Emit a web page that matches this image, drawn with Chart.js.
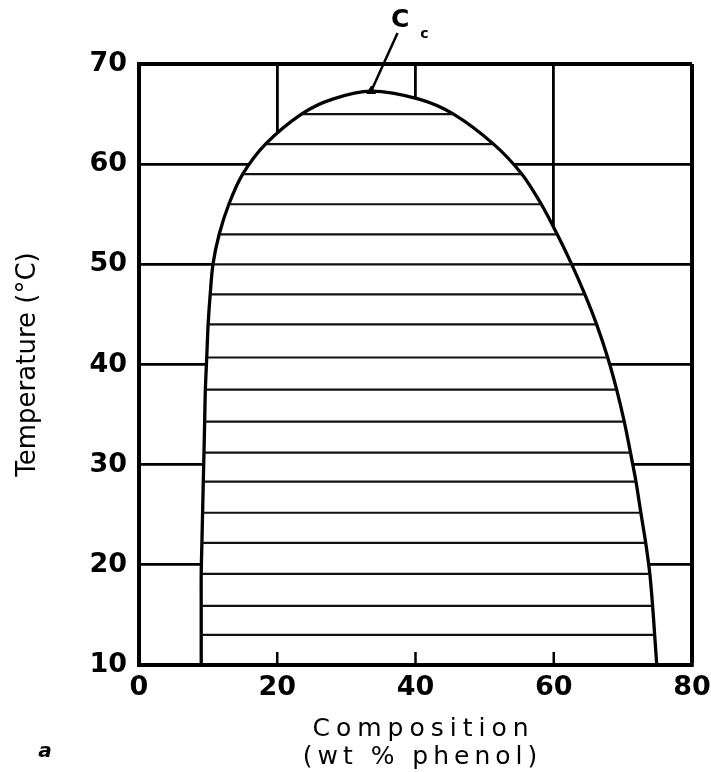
<!DOCTYPE html>
<html>
<head>
<meta charset="utf-8">
<script src="https://cdn.jsdelivr.net/npm/chart.js@4.4.0/dist/chart.umd.min.js"></script>
<style>
html, body { margin: 0; padding: 0; background: #fff; }
#wrap { position: relative; width: 711px; height: 772px; }
</style>
</head>
<body>
<div id="wrap"><canvas id="chart" width="711" height="772"></canvas></div>
<script>
// two-phase boundary (temperature in °C, composition in wt % phenol)
const domeTemps  = [10, 13, 15.9, 19.1, 22.2, 25.2, 28.3, 31.2, 34.3, 37.5, 40.7, 44, 47, 50, 53, 56, 59, 62, 65, 66.5];
const waterRich  = [9.0, 9.0, 9.0, 9.0, 9.1, 9.2, 9.3, 9.4, 9.5, 9.6, 9.8, 10.0, 10.3, 10.7, 11.6, 13.0, 15.0, 18.3, 23.5, 28.0];
const phenolRich = [74.9, 74.6, 74.3, 73.9, 73.3, 72.6, 71.9, 71.1, 70.2, 69.1, 67.8, 66.2, 64.5, 62.6, 60.5, 58.2, 55.4, 51.3, 45.5, 40.5];
// tie lines drawn across the dome
const tieTemps = [13, 15.9, 19.1, 22.2, 25.2, 28.3, 31.2, 34.3, 37.5, 40.7, 44, 47, 50, 53, 56, 59, 62, 65];
const critical = {x: 33.6, y: 67.3};
const leaderEnd = {x: 37.4, y: 73.1};
const labelPos = {x: 37.8, y: 74.3};
const innerTicks = [20, 40, 60];

const domePoints = [];
for (let i = 0; i < domeTemps.length; i++) domePoints.push({x: waterRich[i], y: domeTemps[i]});
domePoints.push(critical);
for (let i = domeTemps.length - 1; i >= 0; i--) domePoints.push({x: phenolRich[i], y: domeTemps[i]});

const datasets = [];
// critical point marker
datasets.push({
    data: [critical],
    showLine: false,
    pointStyle: 'triangle',
    pointRadius: 5,
    backgroundColor: '#000',
    borderColor: '#000'
});
// leader line up to the label
datasets.push({
    data: [critical, leaderEnd],
    showLine: true,
    borderColor: '#000',
    borderWidth: 2.5,
    pointRadius: 0,
    clip: false
});
tieTemps.forEach(t => {
    const i = domeTemps.indexOf(t);
    datasets.push({
        data: [{x: waterRich[i], y: t}, {x: phenolRich[i], y: t}],
        showLine: true,
        borderColor: '#111',
        borderWidth: 2.2,
        pointRadius: 0
    });
});
innerTicks.forEach(v => {
    datasets.push({
        data: [{x: v, y: 10}, {x: v, y: 11.3}],
        showLine: true,
        borderColor: '#000',
        borderWidth: 2.5,
        pointRadius: 0
    });
});
// the dome itself, white inside so the grid is hidden
datasets.push({
    data: domePoints,
    showLine: true,
    borderColor: '#000',
    borderWidth: 3.3,
    backgroundColor: '#fff',
    fill: 'shape',
    tension: 0.3,
    pointRadius: 0
});

const extraText = {
    id: 'extraText',
    afterDraw(chart) {
        const ctx = chart.ctx;
        const xs = chart.scales.x, ys = chart.scales.y;
        ctx.save();
        ctx.fillStyle = '#000';
        // C label near the critical point
        const px = xs.getPixelForValue(labelPos.x), py = ys.getPixelForValue(labelPos.y);
        ctx.font = 'bold 25px "DejaVu Sans"';
        ctx.textAlign = 'center';
        ctx.textBaseline = 'middle';
        ctx.fillText('C', px, py);
        ctx.font = 'bold 14px "DejaVu Sans"';
        ctx.fillText('c', px + 24, py + 13);
        // x axis title, spaced out like the original
        const cx = (chart.chartArea.left + chart.chartArea.right) / 2;
        ctx.font = '25px "DejaVu Sans"';
        ctx.letterSpacing = '6px';
        ctx.fillText('Composition', cx + 8, 729);
        ctx.letterSpacing = '5px';
        ctx.fillText('(wt % phenol)', cx + 7, 757);
        ctx.letterSpacing = '0px';
        // panel letter
        ctx.font = 'italic bold 20px "DejaVu Sans"';
        ctx.fillText('a', 45, 752);
        ctx.restore();
    }
};

function gridWidth(edge) {
    return ctx => ctx.tick && ctx.tick.value === edge ? 4 : 2.8;
}

new Chart(document.getElementById('chart'), {
    type: 'scatter',
    data: {datasets: datasets},
    options: {
        responsive: false,
        animation: false,
        layout: {padding: {top: 64, right: 19, left: 0, bottom: 0}},
        plugins: {legend: {display: false}, tooltip: {enabled: false}},
        scales: {
            x: {
                type: 'linear',
                min: 0,
                max: 80,
                ticks: {stepSize: 20, color: '#000', padding: 7,
                        font: {family: 'DejaVu Sans', weight: 'bold', size: 27}},
                grid: {color: '#000', lineWidth: gridWidth(80), drawTicks: false},
                border: {color: '#000', width: 4, z: 1},
                afterFit: scale => {
                    scale.height = 107;
                    scale.paddingLeft = 0;
                    scale.paddingRight = 0;
                }
            },
            y: {
                type: 'linear',
                min: 10,
                max: 70,
                ticks: {stepSize: 10, color: '#000', padding: 12,
                        font: {family: 'DejaVu Sans', weight: 'bold', size: 27}},
                grid: {color: '#000', lineWidth: gridWidth(70), drawTicks: false},
                border: {color: '#000', width: 4, z: 1},
                title: {display: true, text: 'Temperature (°C)', color: '#000',
                        font: {family: 'DejaVu Sans', size: 26}, padding: {top: 13, bottom: 0}},
                afterFit: scale => {
                    scale.width = 139;
                    scale.paddingTop = 0;
                    scale.paddingBottom = 0;
                }
            }
        }
    },
    plugins: [extraText]
});
</script>
</body>
</html>
